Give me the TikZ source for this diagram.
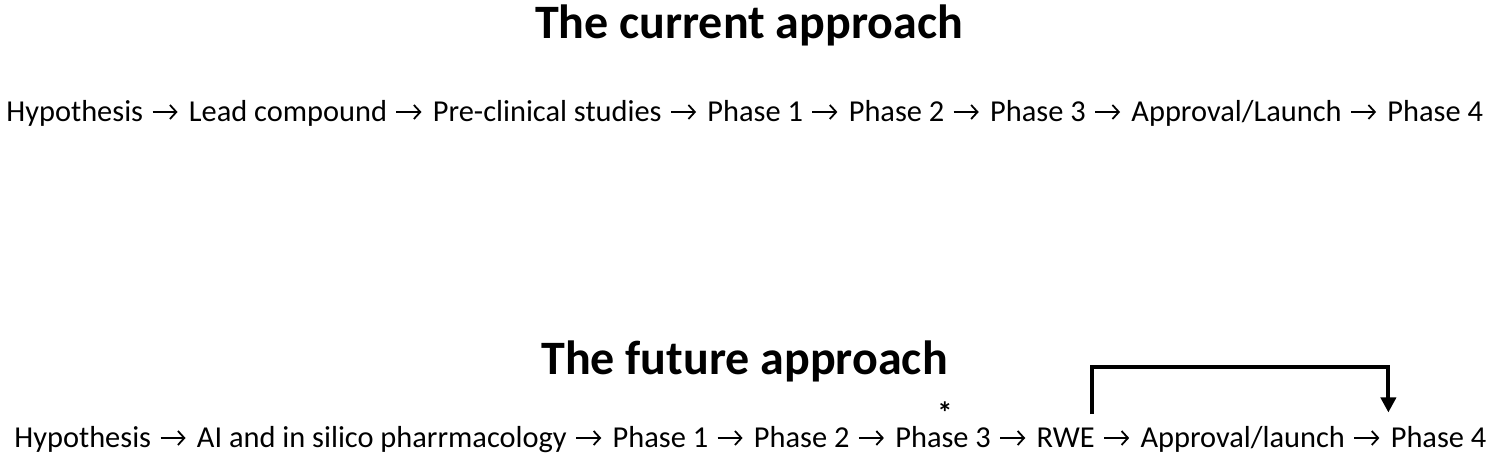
\documentclass[tikz,border=0pt]{standalone}
\usepackage{fontspec}
\setmainfont{Carlito}
\usetikzlibrary{arrows.meta,positioning}
\begin{document}
\begin{tikzpicture}[x=0.5pt,y=-0.5pt,
  item/.style={inner sep=0pt, anchor=base west, font=\fontsize{15.2pt}{18pt}\selectfont},
  ttl/.style={inner sep=0pt, anchor=base, font=\fontsize{24pt}{29pt}\selectfont\bfseries},
  flow/.style={line width=0.9pt, -{Straight Barb[length=3.2pt,width=7pt]}, shorten <=4.5pt, shorten >=5.5pt},
  loopback/.style={line width=2pt, -{Triangle[length=7.5pt,width=7.5pt]}},
  node distance=22.5pt]
\useasboundingbox (0,0) rectangle (1500,459);
% titles
\node[ttl] (t1) at (749,39) {The current approach};
\node[ttl] (t2) at (744.5,375) {The future approach};
% current approach
\node[item] (h1) at (6,122) {Hypothesis};
\node[item, base right=of h1] (l1) {Lead compound};
\node[item, base right=of l1] (p1) {Pre-clinical studies};
\node[item, base right=of p1] (pa1) {Phase 1};
\node[item, base right=of pa1] (pb1) {Phase 2};
\node[item, base right=of pb1] (pc1) {Phase 3};
\node[item, base right=of pc1] (al1) {Approval/Launch};
\node[item, base right=of al1] (pd1) {Phase 4};
\foreach \a/\b in {h1/l1,l1/p1,p1/pa1,pa1/pb1,pb1/pc1,pc1/al1,al1/pd1}
  \draw[flow] ([yshift=5pt]\a.base east) -- ([yshift=5pt]\b.base west);
% future approach
\node[item] (h2) at (14,448) {Hypothesis};
\node[item, base right=of h2] (ai2) {AI and in silico pharrmacology};
\node[item, base right=of ai2] (pa2) {Phase 1};
\node[item, base right=of pa2] (pb2) {Phase 2};
\node[item, base right=of pb2] (pc2) {Phase 3};
\node[item, base right=of pc2] (rwe2) {RWE};
\node[item, base right=of rwe2] (al2) {Approval/launch};
\node[item, base right=of al2] (pd2) {Phase 4};
\foreach \a/\b in {h2/ai2,ai2/pa2,pa2/pb2,pb2/pc2,pc2/rwe2,rwe2/al2,al2/pd2}
  \draw[flow] ([yshift=5pt]\a.base east) -- ([yshift=5pt]\b.base west);
\node[inner sep=0pt, anchor=base, text depth=0pt, font=\fontsize{15.2pt}{18pt}\selectfont\bfseries] (ast) at ([xshift=25pt,yshift=12pt]pc2.base west) {*};
\draw[loopback] ([xshift=-1.5pt,yshift=7pt]rwe2.north east) -- ++(0,-47) -| ([xshift=-1pt,yshift=7pt]pd2.north west);
\end{tikzpicture}
\end{document}
